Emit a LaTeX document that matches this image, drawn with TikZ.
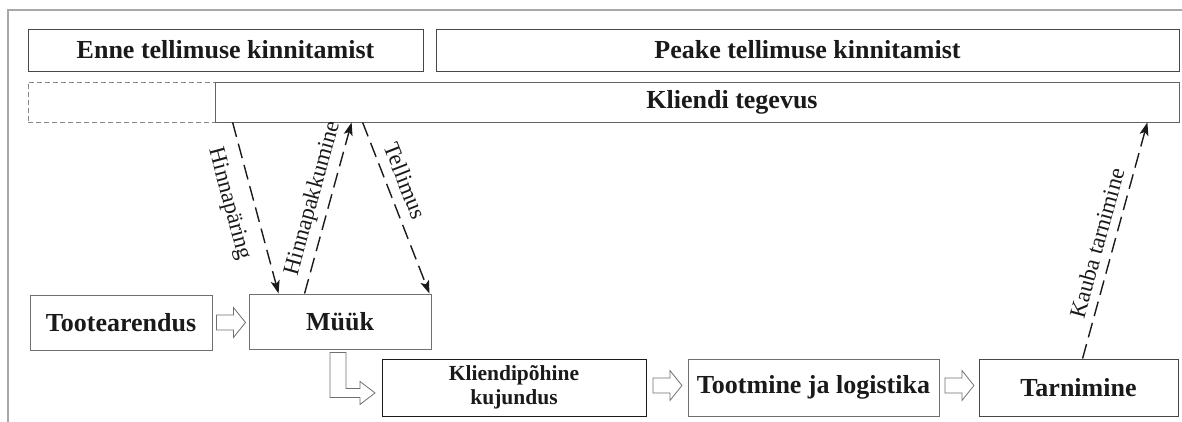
\documentclass[tikz,border=0pt]{standalone}
\usepackage{fontspec}
\setmainfont{Liberation Serif}
\usetikzlibrary{arrows.meta,calc}
\definecolor{framegray}{HTML}{A8A8A8}
\definecolor{boxline}{HTML}{474747}
\definecolor{inkc}{HTML}{1A1A1A}
\definecolor{arrowgray}{HTML}{707070}

\tikzset{
  box/.style={draw=boxline, line width=0.9pt, inner sep=0pt, text=inkc,
    font=\bfseries\fontsize{26}{28}\selectfont, align=center},
  smallbox/.style={box, font=\bfseries\fontsize{21.5}{24}\selectfont},
  dashbox/.style={draw=framegray!80!black, line width=0.9pt, dash pattern=on 5pt off 3pt, inner sep=0pt},
  flow/.style={draw=inkc, line width=1.4pt, dash pattern=on 15pt off 7pt,
    -{Stealth[length=13pt, width=9pt, inset=3pt]}},
  lbl/.style={text=inkc, font=\fontsize{23}{25}\selectfont, inner sep=0pt, sloped},
  hollow/.style={draw=arrowgray, line width=0.8pt, fill=white, line join=miter},
  blockarrow/.pic={\draw[hollow] (0,-7.5) -- (17,-7.5) -- (17,-15) -- (29,0)
      -- (17,15) -- (17,7.5) -- (0,7.5) -- cycle;},
  bentarrow/.pic={\draw[hollow] (-10,0) -- (-10,45) -- (20,45) -- (20,52) -- (35,40.5)
      -- (20,29) -- (20,36) -- (6,36) -- (6,0) -- cycle;}
}

\begin{document}
\begin{tikzpicture}[x=1pt, y=-1pt]
\useasboundingbox (0,0) rectangle (1182,422);

% outer frame (top and left edges)
\draw[framegray, line width=1.5pt] (8,422) -- (8,10) -- (1182,10);

% phase headers
\node[box, minimum width=395pt, minimum height=42pt] (enne) at (225.5,50) {Enne tellimuse kinnitamist};
\node[box, minimum width=743pt, minimum height=42pt] (peake) at (807.5,50) {Peake tellimuse kinnitamist};

% customer activity band: dashed empty part, solid active part
\node[dashbox, minimum width=187pt, minimum height=40pt] (kldash) at (121.5,102) {};
\node[box, draw=boxline!85, line width=0.8pt, minimum width=964pt, minimum height=40pt] (kl) at (697,102) {\hspace*{70pt}Kliendi tegevus};

% process steps
\node[box, draw=arrowgray, minimum width=182pt, minimum height=55pt] (too) at (121,322.5) {Tootearendus};
\node[box, draw=arrowgray, minimum width=182pt, minimum height=55pt] (myyk) at (340,321.5) {Müük};
\node[smallbox, draw=inkc, minimum width=264pt, minimum height=57pt] (kp) at (514,387.5) {Kliendipõhine\\kujundus};
\node[box, draw=arrowgray, minimum width=251pt, minimum height=57pt] (tm) at (813.5,387.5) {Tootmine ja logistika};
\node[box, minimum width=199pt, minimum height=57pt] (tarn) at (1078.5,387.5) {Tarnimine};

% hollow process arrows
\pic at ([xshift=4pt]too.east) {blockarrow};
\pic at ([yshift=-3pt]myyk.south) {bentarrow};
\pic at ([xshift=6.5pt,yshift=2pt]kp.east) {blockarrow};
\pic at ([xshift=5.5pt,yshift=2pt]tm.east) {blockarrow};

% information and goods flows
\draw[flow] ([xshift=18pt]kl.south west) -- node[lbl, pos=0.44, below=14pt] {Hinnapäring} ([xshift=30pt]myyk.north west);
\draw[flow] ([xshift=56pt]myyk.north west) -- node[lbl, pos=0.53, above=6pt] {Hinnapakkumine} ([xshift=137pt]kl.south west);
\draw[flow] ([xshift=148pt]kl.south west) -- node[lbl, pos=0.38, above=10pt] {Tellimus} ([xshift=-2pt]myyk.north east);
\draw[flow] ([xshift=104pt]tarn.north west) -- node[lbl, pos=0.47, above=8pt] {Kauba tarnimine} ([xshift=-32pt]kl.south east);
\end{tikzpicture}
\end{document}
